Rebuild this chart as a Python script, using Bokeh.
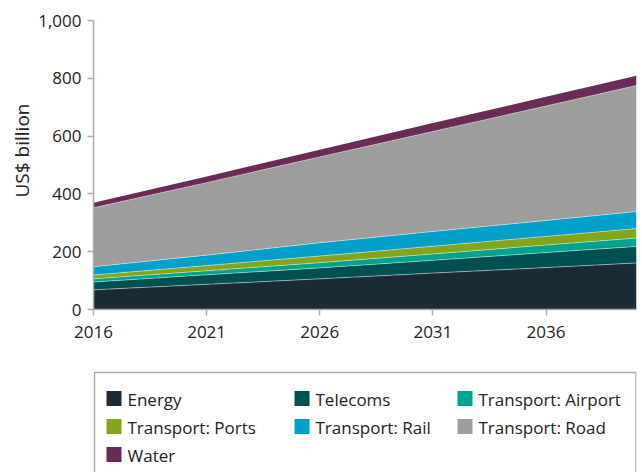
from bokeh.plotting import figure
from bokeh.layouts import column
from bokeh.models import (ColumnDataSource, Range1d, NumeralTickFormatter,
                          FixedTicker, Title)
from bokeh.core.properties import value
from bokeh.embed import file_html
from bokeh.resources import INLINE

years = [2016, 2021, 2026, 2031, 2036, 2040]
energy = [68, 87, 106, 126, 145, 161]
telecoms = [27, 33, 38, 44, 52, 57]
airport = [11, 14, 18, 22, 26, 29]
ports = [13, 18, 23, 27, 30, 33]
rail = [29, 36, 46, 51, 55, 59]
road = [204, 251, 297, 346, 396, 436]
water = [17, 21, 25, 29, 32, 34]

series = ["Energy", "Telecoms", "Transport: Airport", "Transport: Ports",
          "Transport: Rail", "Transport: Road", "Water"]
colors = ["#1b2b36", "#004f51", "#00a38d", "#84a51c", "#00a0c9", "#9d9d9c", "#692d55"]
x_ticks = [2016, 2021, 2026, 2031, 2036]
y_ticks = [0, 200, 400, 600, 800, 1000]

source = ColumnDataSource(dict(year=years, s0=energy, s1=telecoms, s2=airport,
                               s3=ports, s4=rail, s5=road, s6=water))
keys = ["s0", "s1", "s2", "s3", "s4", "s5", "s6"]

FONT = "Open Sans"
TXT = "#222222"
AX = "#aaaaaa"

p = figure(width=642, height=350, output_backend="svg", toolbar_location=None,
           x_range=Range1d(2016, 2040), y_range=Range1d(0, 1000),
           min_border_left=93, min_border_right=6, min_border_top=20,
           min_border_bottom=41)
p.outline_line_color = None
p.grid.grid_line_color = None

p.varea_stack(keys, x="year", color=colors, source=source)
p.vline_stack(keys[:-1], x="year", source=source, line_color="white",
              line_alpha=0.55, line_width=0.8)

for ax in (p.xaxis[0], p.yaxis[0]):
    ax.axis_line_color = AX
    ax.axis_line_width = 1.5
    ax.major_tick_line_color = AX
    ax.major_tick_line_width = 1.5
    ax.major_tick_out = 6
    ax.major_tick_in = 0
    ax.minor_tick_line_color = None
    ax.major_label_text_font = FONT
    ax.major_label_text_font_size = "17px"
    ax.major_label_text_color = TXT

p.xaxis.ticker = FixedTicker(ticks=x_ticks)
p.xaxis.major_label_standoff = 10
p.yaxis.ticker = FixedTicker(ticks=y_ticks)
p.yaxis.formatter = NumeralTickFormatter(format="0,0")
p.yaxis.major_label_standoff = 6

ylab = Title(text="US$ billion", align="left", offset=112,
             text_font=FONT, text_font_size="19px", text_font_style="normal",
             text_color=TXT, standoff=2)
p.add_layout(ylab, "left")

# legend panel (drawn as a second figure under the chart)
LH = 122
lf = figure(width=642, height=LH, output_backend="svg", toolbar_location=None,
            x_range=Range1d(93, 636), y_range=Range1d(LH, 0),
            min_border_left=93, min_border_right=6, min_border_top=0,
            min_border_bottom=0)
lf.axis.visible = False
lf.grid.grid_line_color = None
lf.outline_line_color = None

order = [0, 1, 2, 3, 4, 5, 6]
col_x = [106, 294, 457]
row_y = [48, 76, 104]
sw_l = [col_x[i % 3] for i in order]
sw_y = [row_y[i // 3] for i in order]
leg = ColumnDataSource(dict(
    left=sw_l, right=[x + 15 for x in sw_l],
    top=[y - 7.5 for y in sw_y], bottom=[y + 7.5 for y in sw_y],
    tx=[x + 21 for x in sw_l], ty=[y + 1 for y in sw_y],
    label=[series[i] for i in order], color=[colors[i] for i in order]))

lf.quad(left=[94], right=[635.5], top=[22], bottom=[LH + 5], fill_color=None,
        line_color="#aaaaaa", line_width=1.5)
lf.quad(left="left", right="right", top="top", bottom="bottom",
        fill_color="color", line_color=None, source=leg)
lf.text(x="tx", y="ty", text="label", source=leg, text_font=value(FONT),
        text_font_size="17px", text_color=TXT, text_baseline="middle",
        text_align="left")

open("out.html", "w").write(file_html(column(p, lf, spacing=0), INLINE))
